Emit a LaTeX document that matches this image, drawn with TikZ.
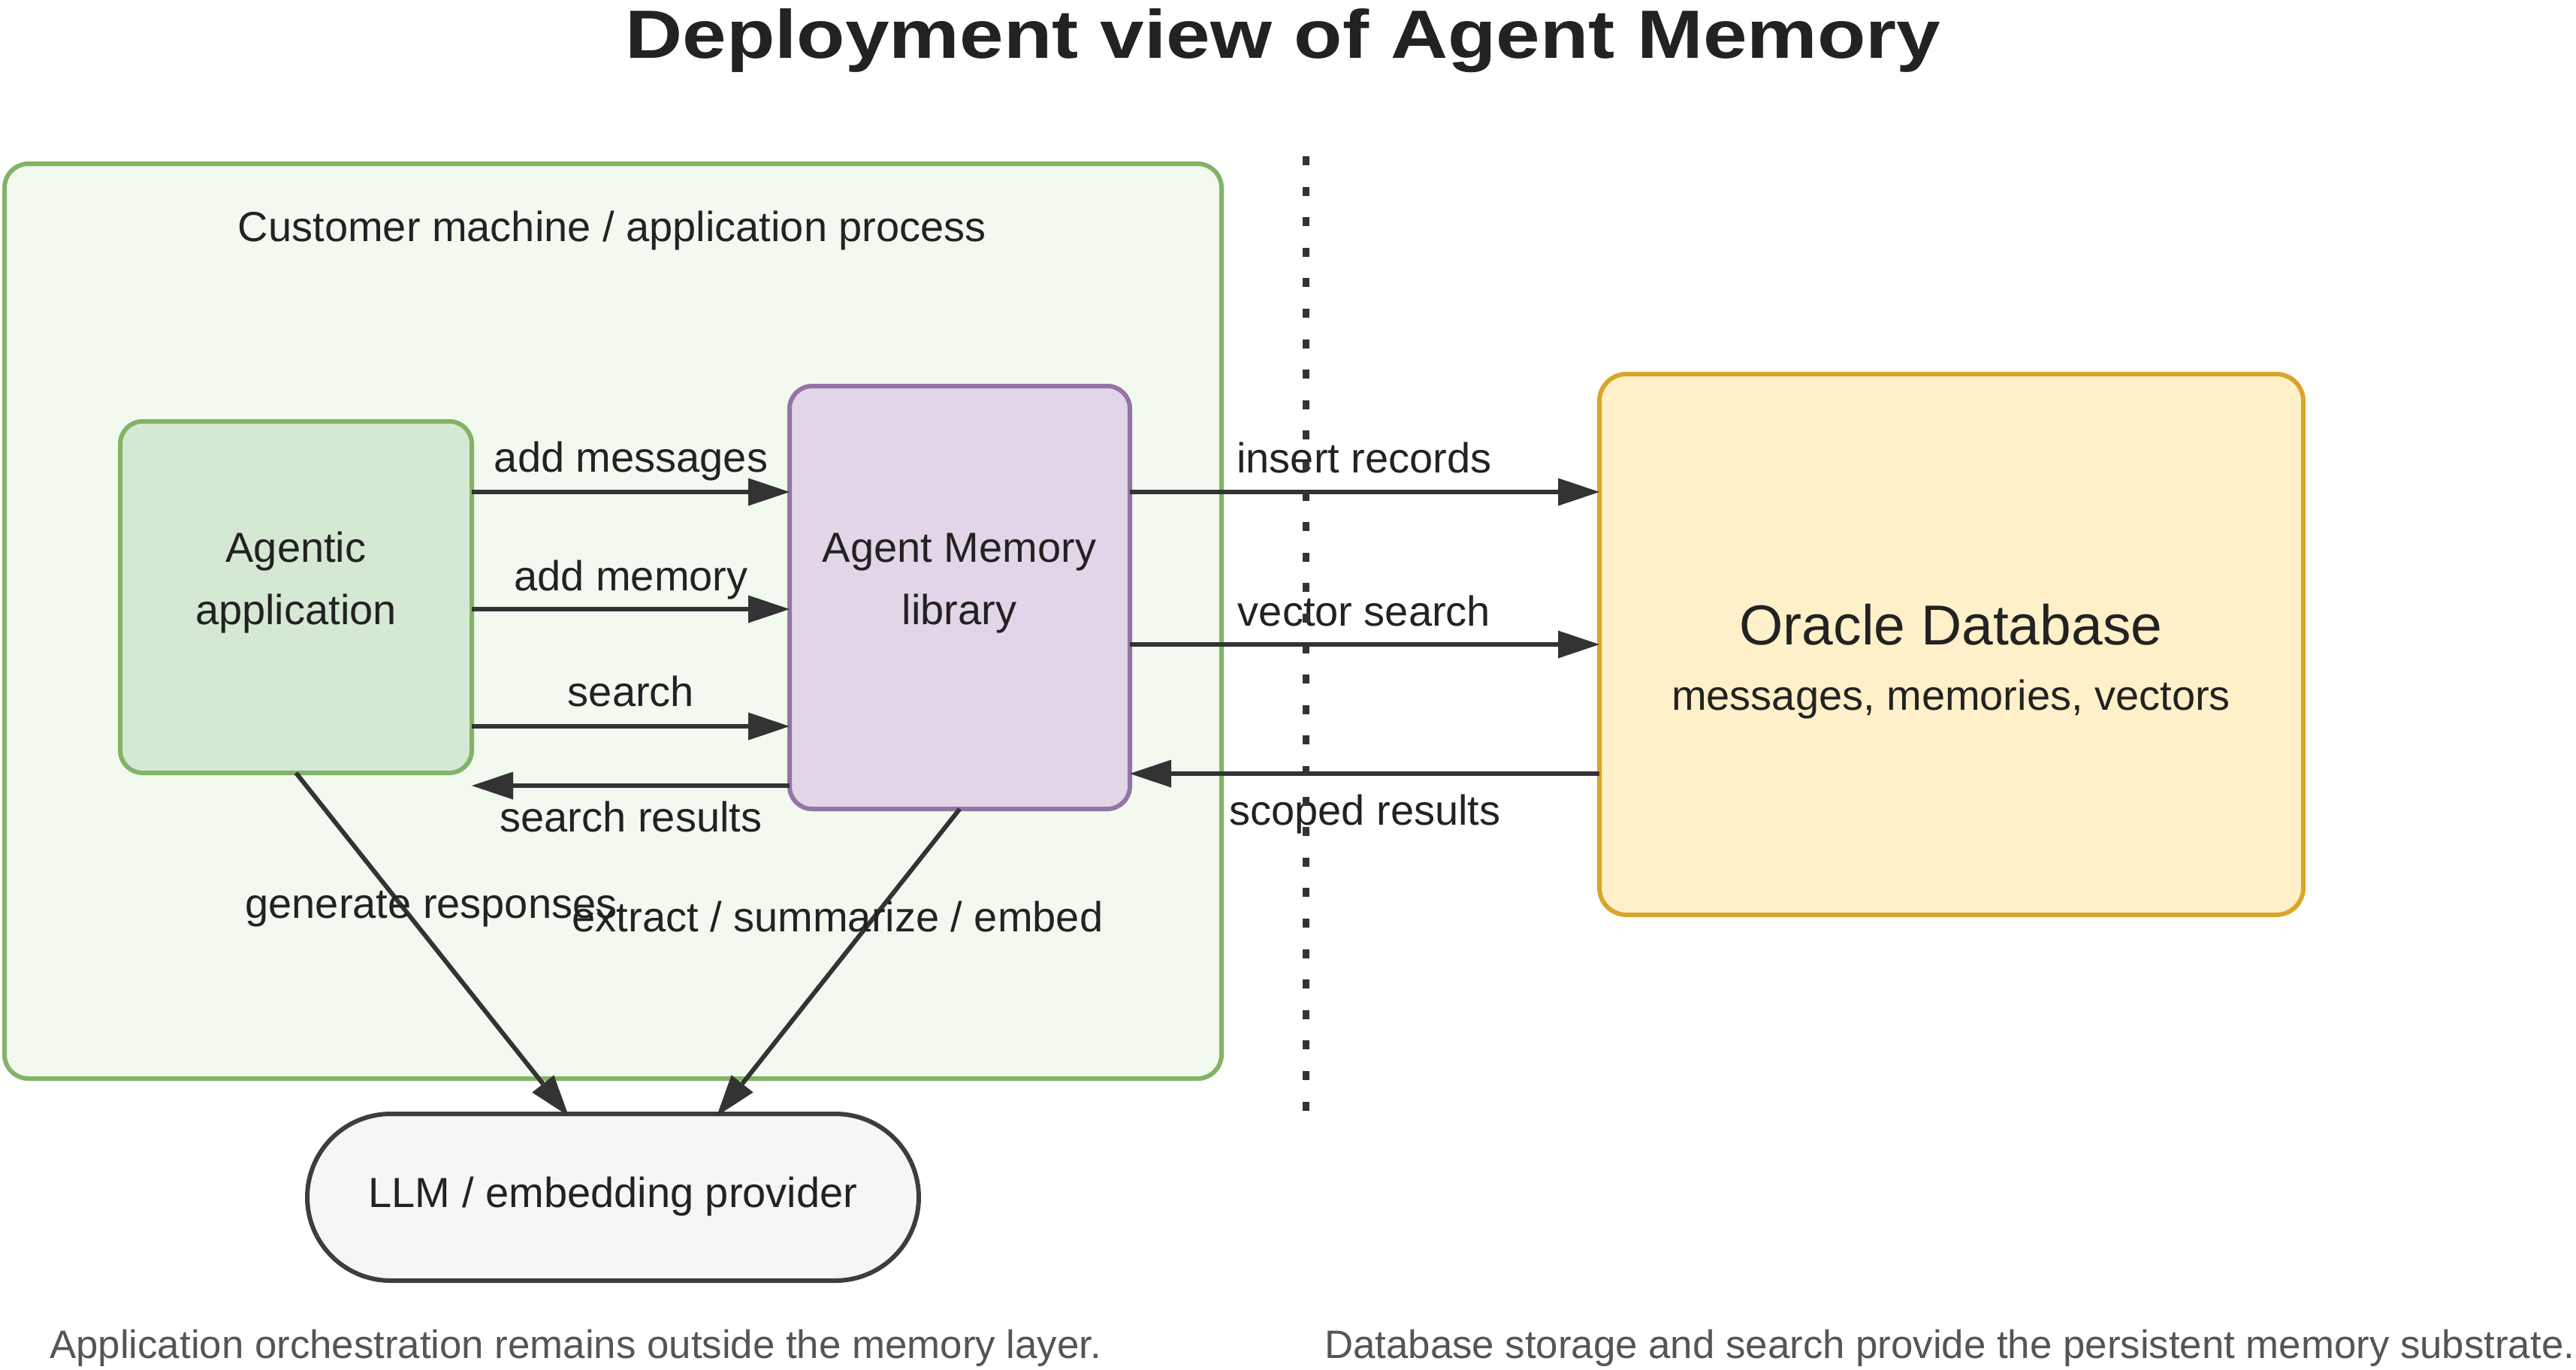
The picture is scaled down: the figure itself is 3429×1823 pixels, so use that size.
\documentclass[tikz,border=0pt]{standalone}
\usepackage{fontspec}
\setmainfont{Liberation Sans}
\usepackage{graphicx}
\usetikzlibrary{arrows.meta}
\newcommand{\myfs}[2]{\fontsize{#1}{#2}\selectfont}
\definecolor{textc}{HTML}{222222}
\definecolor{arrowc}{HTML}{333333}
\definecolor{footc}{HTML}{555555}
\definecolor{contF}{HTML}{F2F9EE}
\definecolor{greenS}{HTML}{82B366}
\definecolor{greenF}{HTML}{D5E8D4}
\definecolor{purpS}{HTML}{9673A6}
\definecolor{purpF}{HTML}{E1D5E7}
\definecolor{goldS}{HTML}{D9A52A}
\definecolor{goldF}{HTML}{FFF0C9}
\definecolor{greyS}{HTML}{3D3D3D}
\definecolor{greyF}{HTML}{F6F6F6}
\begin{document}
\begin{tikzpicture}[x=1pt,y=-1pt,
  box/.style={draw, line width=6pt, rounded corners=30pt, inner sep=0pt, outer sep=0pt},
  arr/.style={draw=arrowc, line width=6pt, -{Triangle[length=55pt,width=37pt,line width=0pt]}},
  lbl/.style={anchor=base, inner sep=0pt, text=textc, font=\myfs{56}{67}},
  foot/.style={anchor=base west, inner sep=0pt, text=footc, font=\myfs{52.8}{62}},
  divider/.style={draw=arrowc, line width=9pt, dash pattern=on 12pt off 28.6pt}]
\useasboundingbox (0,0) rectangle (3429,1823);
\fill[white] (0,0) rectangle (3429,1823);

% title
\node[anchor=base, inner sep=0pt, text=textc] (title) at (1708,77)
  {\scalebox{1.158}[1]{\bfseries\myfs{91}{100}Deployment view of Agent Memory}};

% container
\node[box, draw=greenS, fill=contF, rounded corners=32pt, minimum width=1620pt, minimum height=1218pt] (cont) at (816,827) {};
\node[lbl] (contL) at (815,321) {Customer machine / application process};

% nodes
\node[box, draw=greenS, fill=greenF, minimum width=468pt, minimum height=468pt] (app) at (394,795) {};
\node[lbl] (appL1) at (394,748) {Agentic};
\node[lbl] (appL2) at (394,831) {application};

\node[box, draw=purpS, fill=purpF, minimum width=453pt, minimum height=563pt] (mem) at (1277.5,795.5) {};
\node[lbl] (memL1) at (1277,748) {Agent Memory};
\node[lbl] (memL2) at (1277,831) {library};

\node[box, draw=goldS, fill=goldF, rounded corners=36pt, minimum width=937pt, minimum height=720pt] (db) at (2597.5,858) {};
\node[lbl, font=\myfs{75}{90}] (dbL1) at (2597,858) {Oracle Database};
\node[lbl] (dbL2) at (2597,945) {messages, memories, vectors};

\node[box, draw=greyS, fill=greyF, rounded corners=111pt, minimum width=814pt, minimum height=222pt] (llm) at (816,1594) {};
\node[lbl] (llmL) at (816,1607) {LLM / embedding provider};

% connector levels
\coordinate (yAM) at (0,655);
\coordinate (yMe) at (0,811);
\coordinate (ySe) at (0,967);
\coordinate (ySR) at (0,1046);
\coordinate (yVS) at (0,858);
\coordinate (ySC) at (0,1030);
\coordinate (t1) at (757,1486);
\coordinate (t2) at (954,1486);

% connectors
\draw[arr] (app.east |- yAM) -- (mem.west |- yAM);
\draw[arr] (app.east |- yMe) -- (mem.west |- yMe);
\draw[arr] (app.east |- ySe) -- (mem.west |- ySe);
\draw[arr] (mem.west |- ySR) -- (app.east |- ySR);
\draw[arr] (mem.east |- yAM) -- (db.west |- yAM);
\draw[arr] (mem.east |- yVS) -- (db.west |- yVS);
\draw[arr] (db.west |- ySC) -- (mem.east |- ySC);
\draw[arr] (app.south) -- (t1);
\draw[arr] (mem.south) -- (t2);

% connector labels
\node[lbl] (l1) at (840,628) {add messages};
\node[lbl] (l2) at (840,786) {add memory};
\node[lbl] (l3) at (840,940) {search};
\node[lbl] (l4) at (840,1107) {search results};
\node[lbl] (l5) at (1816,629) {insert records};
\node[lbl] (l6) at (1816,833) {vector search};
\node[lbl] (l7) at (1817,1098) {scoped results};
\node[lbl] (l8) at (574,1222) {generate responses};
\node[lbl] (l9) at (1115,1240) {extract / summarize / embed};

% divider
\coordinate (dTop) at (1738,208);
\coordinate (dBot) at (1738,1481);
\draw[divider] (dTop) -- (dBot);

% footers
\node[foot] (f1) at (66,1808) {Application orchestration remains outside the memory layer.};
\node[foot] (f2) at (1763,1808) {Database storage and search provide the persistent memory substrate.};
\end{tikzpicture}
\end{document}
